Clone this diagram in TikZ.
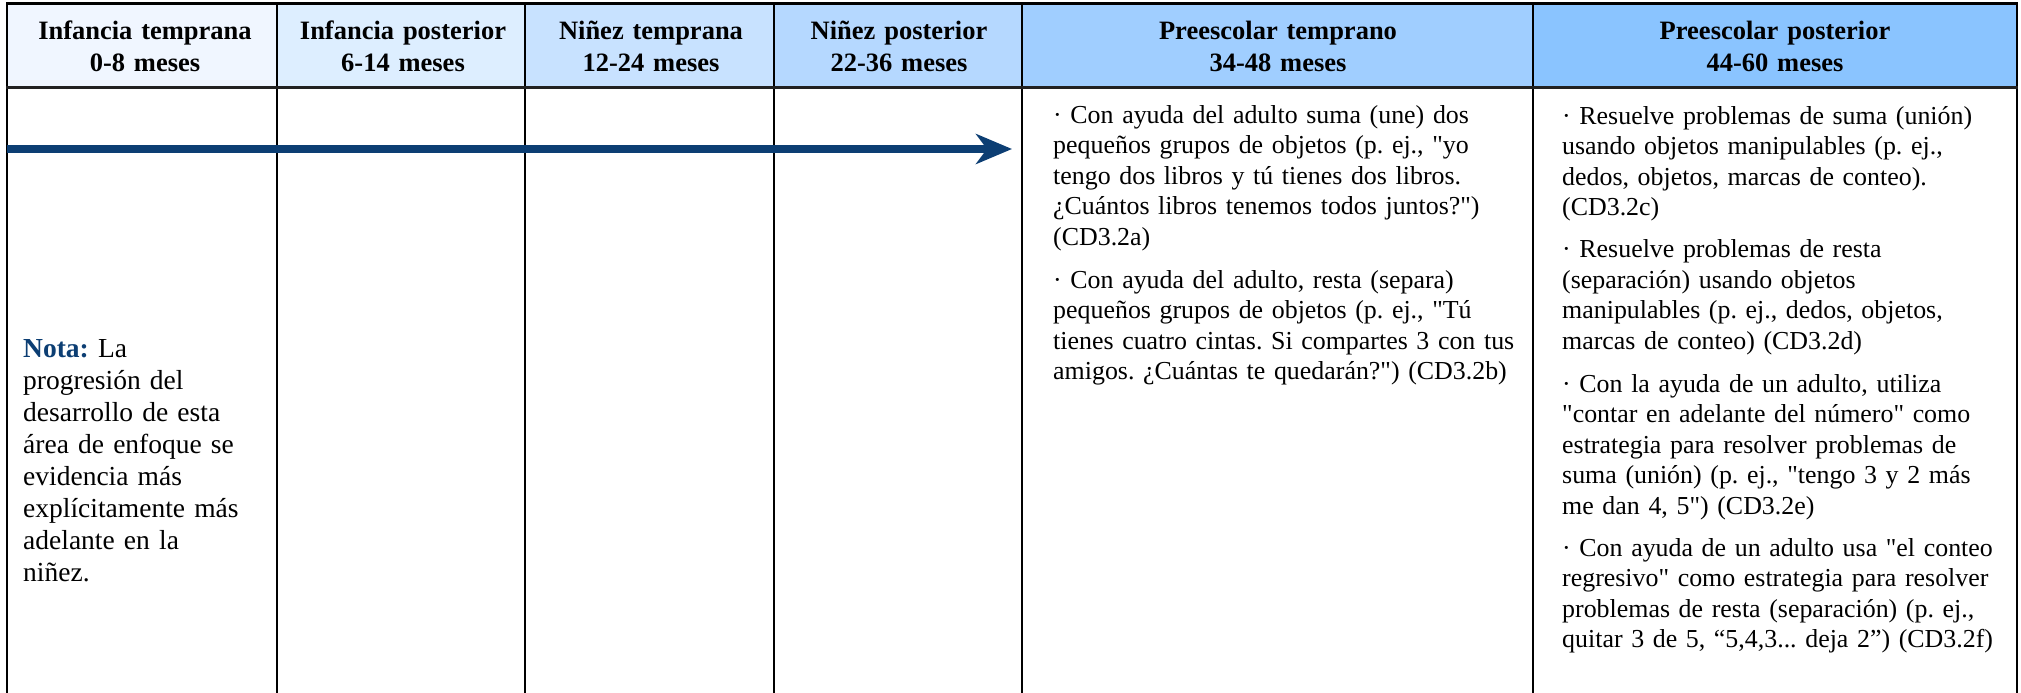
\documentclass[tikz,border=0pt]{standalone}
\usepackage{fontspec}
\setmainfont{Liberation Serif}[Ligatures=TeXOff]
\usetikzlibrary{arrows.meta}
\definecolor{hA}{HTML}{F0F6FF}
\definecolor{hB}{HTML}{DDEEFF}
\definecolor{hC}{HTML}{C8E2FF}
\definecolor{hD}{HTML}{B5D8FF}
\definecolor{hE}{HTML}{A0CEFF}
\definecolor{hF}{HTML}{8AC4FF}
\definecolor{navy}{RGB}{12,62,115}
\frenchspacing
\begin{document}
\begin{tikzpicture}[x=1pt,y=-1pt,
  hdr/.style={font=\fontsize{26.5}{32}\selectfont\bfseries, align=center, inner sep=0pt, anchor=base, text width=300pt},
  body/.style={font=\fontsize{25.9}{30.5}\selectfont\frenchspacing, align=left, inner sep=0pt, anchor=base west, text width=490pt},
  note/.style={font=\fontsize{27.5}{32}\selectfont, align=left, inner sep=0pt, anchor=base west, text width=250pt},
  gridline/.style={line width=2pt, black},
  arrowline/.style={navy, line width=8pt, -{Stealth[length=36pt, width=30pt, inset=11pt]}},
]
\useasboundingbox (0,0) rectangle (2021,693);
% header fills
\fill[hA] (7,4) rectangle (277,87);
\fill[hB] (277,4) rectangle (525,87);
\fill[hC] (525,4) rectangle (774,87);
\fill[hD] (774,4) rectangle (1022,87);
\fill[hE] (1022,4) rectangle (1533,87);
\fill[hF] (1533,4) rectangle (2017,87);
% grid
\foreach \xx in {7,277,525,774,1022,1533,2017}
  \draw[gridline] (\xx,3) -- (\xx,693);
\draw[line width=3pt, black] (6,3.5) -- (2018,3.5);
\draw[line width=3pt, black!87] (6,87.5) -- (2018,87.5);
% header texts
\node[hdr] (h1) at (145,40) {Infancia temprana\\0-8 meses};
\node[hdr] (h2) at (403,40) {Infancia posterior\\6-14 meses};
\node[hdr] (h3) at (651,40) {Niñez temprana\\12-24 meses};
\node[hdr] (h4) at (899,40) {Niñez posterior\\22-36 meses};
\node[hdr] (h5) at (1278,40) {Preescolar temprano\\34-48 meses};
\node[hdr] (h6) at (1775,40) {Preescolar posterior\\44-60 meses};
% arrow
\coordinate (arrS) at (7,149);
\coordinate (arrE) at (1012,149);
\draw[arrowline] (arrS) -- (arrE);
% note
\node[note] (nota) at (23,357) {\textcolor{navy}{\textbf{Nota:}} La\\progresión del\\desarrollo de esta\\área de enfoque se\\evidencia más\\explícitamente más\\adelante en la\\niñez.};
% column 5
\node[body] (c5) at (1053,123) {· Con ayuda del adulto suma (une) dos\\
pequeños grupos de objetos (p. ej., "yo\\
tengo dos libros y tú tienes dos libros.\\
¿Cuántos libros tenemos todos juntos?")\\
(CD3.2a)\\[12.5pt]
· Con ayuda del adulto, resta (separa)\\
pequeños grupos de objetos (p. ej., "Tú\\
tienes cuatro cintas. Si compartes 3 con tus\\
amigos. ¿Cuántas te quedarán?") (CD3.2b)};
% column 6
\node[body] (c6) at (1562,124) {· Resuelve problemas de suma (unión)\\
usando objetos manipulables (p. ej.,\\
dedos, objetos, marcas de conteo).\\
(CD3.2c)\\[12pt]
· Resuelve problemas de resta\\
(separación) usando objetos\\
manipulables (p. ej., dedos, objetos,\\
marcas de conteo) (CD3.2d)\\[12pt]
· Con la ayuda de un adulto, utiliza\\
"contar en adelante del número" como\\
estrategia para resolver problemas de\\
suma (unión) (p. ej., "tengo 3 y 2 más\\
me dan 4, 5") (CD3.2e)\\[12pt]
· Con ayuda de un adulto usa "el conteo\\
regresivo" como estrategia para resolver\\
problemas de resta (separación) (p. ej.,\\
quitar 3 de 5, “5,4,3... deja 2”) (CD3.2f)};
\end{tikzpicture}
\end{document}
